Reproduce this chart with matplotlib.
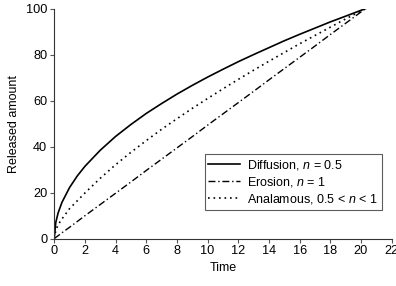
import matplotlib
matplotlib.use("Agg")
import matplotlib.pyplot as plt

plt.rcParams['font.family'] = ['Liberation Sans', 'DejaVu Sans']
plt.rcParams['mathtext.fontset'] = 'custom'
plt.rcParams['mathtext.rm'] = 'Liberation Sans'
plt.rcParams['mathtext.it'] = 'Liberation Sans:italic'

time = [0, 0.1, 0.25, 0.5, 1, 1.5, 2, 3, 4, 5, 6, 7, 8, 9, 10, 11, 12, 13,
        14, 15, 16, 17, 18, 19, 20.3]
diffusion = [0, 7.0, 11.1, 15.7, 22.2, 27.2, 31.4, 38.4, 44.4, 49.6, 54.4, 58.7,
             62.8, 66.6, 70.2, 73.6, 76.9, 80.0, 83.0, 86.0, 88.8, 91.5, 94.2,
             96.7, 100]
erosion = [0, 0.5, 1.2, 2.5, 4.9, 7.4, 9.9, 14.8, 19.7, 24.6, 29.6, 34.5, 39.4,
           44.3, 49.3, 54.2, 59.1, 64.0, 69.0, 73.9, 78.8, 83.7, 88.7, 93.6, 100]
anomalous = [0, 3.5, 6.0, 8.5, 13.0, 16.4, 19.8, 26.2, 32.1, 37.5, 42.6, 47.5,
             52.1, 56.6, 60.9, 65.1, 69.2, 73.2, 77.1, 80.9, 84.7, 88.3, 91.9,
             95.5, 100]

labels = [r"Diffusion, $n$ = 0.5", r"Erosion, $n$ = 1",
          r"Analamous, 0.5 < $n$ < 1"]
xticks = list(range(0, 23, 2))
yticks = list(range(0, 101, 20))

fig = plt.figure(figsize=(3.96, 2.86), dpi=100)
ax = fig.add_axes([0.137, 0.166, 0.852, 0.804])

ax.plot(time, diffusion, color='black', lw=1.2, label=labels[0])
ax.plot(time, erosion, color='black', lw=1.0, dashes=(5, 2, 1, 2),
        label=labels[1])
ax.plot(time, anomalous, color='black', lw=1.2, dashes=(1, 2.3),
        label=labels[2])

ax.set_xlim(0, 22)
ax.set_ylim(0, 100)
ax.set_xticks(xticks)
ax.set_yticks(yticks)
ax.spines['top'].set_visible(False)
ax.spines['right'].set_visible(False)
for s in ('left', 'bottom'):
    ax.spines[s].set_linewidth(0.8)
    ax.spines[s].set_color('#333333')
ax.tick_params(axis='both', labelsize=9.2, length=3, width=0.8,
               color='#555555', pad=2)
ax.set_xlabel("Time", fontsize=9, labelpad=3)
ax.set_ylabel("Released amount", fontsize=9, labelpad=4)

leg = ax.legend(loc='lower right', bbox_to_anchor=(0.97, 0.125), fontsize=9,
                frameon=True, fancybox=False, edgecolor='#333333',
                handlelength=2.5, handletextpad=0.6, borderpad=0.3,
                labelspacing=0.25, borderaxespad=0)
leg.get_frame().set_linewidth(0.8)

fig.savefig("out.png", dpi=100)
